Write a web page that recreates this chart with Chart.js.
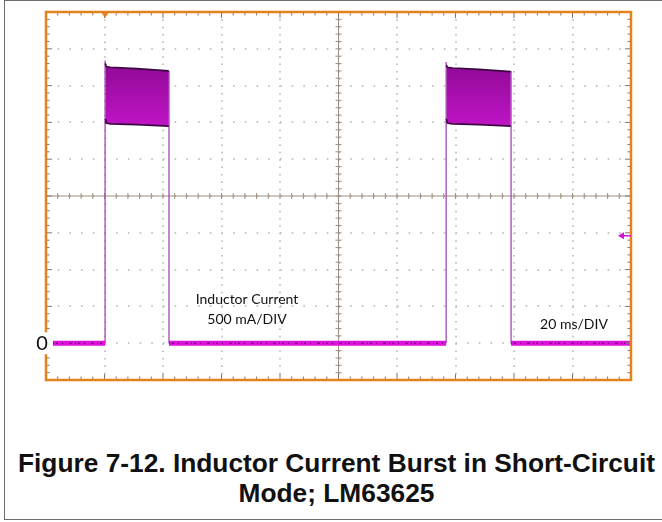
<!DOCTYPE html>
<html>
<head>
<meta charset="utf-8">
<script src="https://cdn.jsdelivr.net/npm/chart.js@4.4.1/dist/chart.umd.min.js"></script>
<style>
  body { margin: 0; background: #fff; width: 662px; height: 522px; overflow: hidden; position: relative; }
  #box { position: absolute; left: 4px; top: 0; width: 700px; height: 520px; border: 1.5px solid #6d6d6d; box-sizing: border-box; }
  #plot { position: absolute; left: 0; top: 0; width: 662px; height: 400px; }
  #caption { position: absolute; left: 0; top: 448px; width: 673px; text-align: center;
             font: bold 26.3px "Liberation Sans", Arial, sans-serif; line-height: 30px; color: #111; }
</style>
</head>
<body>
<div id="box"></div>
<div id="plot"><canvas id="scope"></canvas></div>
<div id="caption">Figure 7-12. Inductor Current Burst in Short-Circuit<br>Mode; LM63625</div>
<script>
// time in ms (20 ms/DIV), current in A (500 mA/DIV)
const baseTime    = [2.4, 20.2, 31, 42.05, 136.8, 148, 159.0, 200];
const baseCurrent = [0, 0, null, 0, 0, null, 0, 0];

const edgeTime    = [20.2, 20.2, 31, 42.05, 42.05, 90, 136.8, 136.8, 148, 159.0, 159.0];
const edgeCurrent = [0, 3.84, null, 3.70, 0, null, 0, 3.82, null, 3.70, 0];

const burst1Time   = [20.3, 20.6, 22, 31, 42.0];
const burst1Top    = [3.80, 3.76, 3.75, 3.73, 3.70];
const burst1Bottom = [3.05, 2.99, 2.98, 2.97, 2.95];

const burst2Time   = [136.9, 137.2, 139, 148, 158.9];
const burst2Top    = [3.78, 3.75, 3.74, 3.72, 3.69];
const burst2Bottom = [3.05, 2.99, 2.98, 2.97, 2.95];

const timeTicks = { min: 0, max: 200, step: 20 };
const currentTicks = { min: -0.5, max: 4.5, step: 0.5 };
const triggerTime = 20.2;
const triggerLevel = 1.46;

function pts(xs, ys) {
    return xs.map((x, i) => ({ x: x, y: ys[i] }));
}

function burstFill(ctx) {
    const chart = ctx.chart;
    if (!chart.chartArea) return '#a010a8';
    const y = chart.scales.y;
    const g = chart.ctx.createLinearGradient(0, y.getPixelForValue(3.75), 0, y.getPixelForValue(2.95));
    g.addColorStop(0, '#920a98');
    g.addColorStop(1, '#c014c6');
    return g;
}

const lineBase = { pointRadius: 0, tension: 0, spanGaps: false };

const scopeFrame = {
    id: 'scopeFrame',
    beforeDatasetsDraw(chart) {
        const { ctx, chartArea: a, scales: { x, y } } = chart;
        const cx = x.getPixelForValue(100), cy = y.getPixelForValue(2);
        ctx.save();
        ctx.strokeStyle = '#9d9080';
        ctx.lineWidth = 1;
        ctx.beginPath();
        ctx.moveTo(cx, a.top); ctx.lineTo(cx, a.bottom);
        ctx.moveTo(a.left, cy); ctx.lineTo(a.right, cy);
        for (let i = 0; i <= 50; i++) {
            const py = y.getPixelForValue(-0.5 + i * 0.1);
            ctx.moveTo(cx - 3, py); ctx.lineTo(cx + 3, py);
            const px = x.getPixelForValue(i * 4);
            ctx.moveTo(px, cy - 3); ctx.lineTo(px, cy + 3);
        }
        ctx.stroke();
        ctx.restore();
    },
    afterDatasetsDraw(chart) {
        const { ctx, chartArea: a, scales: { x, y } } = chart;
        ctx.save();
        // ticks on the frame
        ctx.strokeStyle = '#85776a';
        ctx.lineWidth = 1;
        ctx.beginPath();
        for (let i = 0; i <= 50; i++) {
            const len = i % 5 === 0 ? 6 : 3.5;
            const py = y.getPixelForValue(-0.5 + i * 0.1);
            ctx.moveTo(a.left, py); ctx.lineTo(a.left + len, py);
            ctx.moveTo(a.right, py); ctx.lineTo(a.right - len, py);
            const px = x.getPixelForValue(i * 4);
            ctx.moveTo(px, a.top); ctx.lineTo(px, a.top + len);
            ctx.moveTo(px, a.bottom); ctx.lineTo(px, a.bottom - len);
        }
        ctx.stroke();
        // orange frame
        ctx.strokeStyle = '#e5821e';
        ctx.lineWidth = 2.5;
        ctx.strokeRect(a.left, a.top, a.right - a.left, a.bottom - a.top);
        // trigger position marker
        const tx = x.getPixelForValue(triggerTime);
        ctx.fillStyle = '#e5821e';
        ctx.beginPath();
        ctx.moveTo(tx - 4, a.top); ctx.lineTo(tx + 4, a.top); ctx.lineTo(tx, a.top + 6);
        ctx.closePath(); ctx.fill();
        // trigger level marker
        const ty = y.getPixelForValue(triggerLevel);
        ctx.strokeStyle = '#d814d8'; ctx.fillStyle = '#d814d8';
        ctx.lineWidth = 1.5;
        ctx.beginPath();
        ctx.moveTo(a.right - 9, ty); ctx.lineTo(a.right, ty);
        ctx.stroke();
        ctx.beginPath();
        ctx.moveTo(a.right - 13, ty); ctx.lineTo(a.right - 7, ty - 3.5); ctx.lineTo(a.right - 7, ty + 3.5);
        ctx.closePath(); ctx.fill();
        // zero label
        const zy = y.getPixelForValue(0);
        ctx.fillStyle = '#fff';
        ctx.fillRect(a.left - 13, zy - 11, 20, 22);
        ctx.fillStyle = '#111';
        ctx.font = '20px Lato, sans-serif';
        ctx.textAlign = 'center';
        ctx.textBaseline = 'middle';
        ctx.fillText('0', a.left - 4, zy);
        // annotations
        ctx.font = '14px Lato, sans-serif';
        ctx.fillText('Inductor Current', 247, 299);
        ctx.fillText('500 mA/DIV', 247, 319);
        ctx.fillText('20 ms/DIV', 574, 324);
        ctx.restore();
    }
};

new Chart(document.getElementById('scope'), {
    type: 'line',
    data: {
        datasets: [
            { ...lineBase, data: pts(burst1Time, burst1Top), borderColor: '#3a0840', borderWidth: 1.6, fill: false },
            { ...lineBase, data: pts(burst1Time, burst1Bottom), borderColor: '#3a0840', borderWidth: 1.6, fill: '-1', backgroundColor: burstFill },
            { ...lineBase, data: pts(burst2Time, burst2Top), borderColor: '#3a0840', borderWidth: 1.6, fill: false },
            { ...lineBase, data: pts(burst2Time, burst2Bottom), borderColor: '#3a0840', borderWidth: 1.6, fill: '-1', backgroundColor: burstFill },
            { ...lineBase, data: pts(baseTime, baseCurrent), borderColor: '#4a0050', borderWidth: 1, borderDash: [1, 2, 2, 4, 1, 6, 3, 3], fill: false },
            { ...lineBase, data: pts(baseTime, baseCurrent), borderColor: '#e010e0', borderWidth: 5, fill: false },
            { ...lineBase, data: pts(edgeTime, edgeCurrent), borderColor: '#a548b5', borderWidth: 1.3, fill: false }
        ]
    },
    options: {
        responsive: true,
        maintainAspectRatio: false,
        animation: false,
        devicePixelRatio: 1,
        layout: { padding: { left: 46, top: 12, right: 31, bottom: 20 } },
        plugins: { legend: { display: false }, tooltip: { enabled: false } },
        scales: {
            x: {
                type: 'linear',
                min: timeTicks.min, max: timeTicks.max,
                ticks: { display: false, stepSize: timeTicks.step },
                grid: { color: '#c4c4c4', lineWidth: 2, drawTicks: false },
                border: { display: false, dash: [1.5, 5.86] }
            },
            y: {
                min: currentTicks.min, max: currentTicks.max,
                ticks: { display: false, stepSize: currentTicks.step },
                grid: { color: '#c4c4c4', lineWidth: 2, drawTicks: false },
                border: { display: false, dash: [1.5, 10.2] }
            }
        }
    },
    plugins: [scopeFrame]
});
</script>
</body>
</html>
